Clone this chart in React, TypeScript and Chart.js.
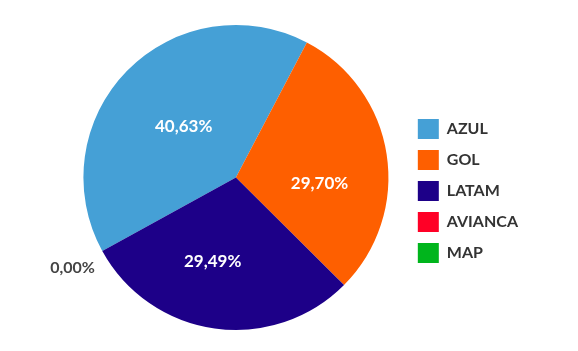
import React, { useEffect, useRef } from "react";
import { Chart, registerables } from "chart.js";

Chart.register(...registerables);

const categories = ["AZUL", "GOL", "LATAM", "AVIANCA", "MAP"];
const shares = [40.63, 29.7, 29.49, 0, 0];
const colors = ["#45a0d6", "#fe5f00", "#1d0088", "#ff0026", "#00b51c"];

// label placement tweaks (style only): angular nudge in degrees, radius fraction
const labelNudgeDeg = [0, 13, 7.5, 0, 0];
const labelRadiusFrac = [0.48, 0.55, 0.57, 0, 0];

const FONT = "Lato, 'Open Sans', sans-serif";

const fmt = (v: number) => v.toFixed(2).replace(".", ",") + "%";

const sliceLabels = {
  id: "sliceLabels",
  afterDatasetsDraw(chart: any) {
    const meta = chart.getDatasetMeta(0);
    const ctx = chart.ctx;
    ctx.save();
    ctx.textAlign = "center";
    ctx.textBaseline = "middle";
    let zeroDrawn = false;
    meta.data.forEach((arc: any, i: number) => {
      const p = arc.getProps(["x", "y", "startAngle", "endAngle", "outerRadius"], true);
      const v = shares[i];
      const mid = (p.startAngle + p.endAngle) / 2 + (labelNudgeDeg[i] * Math.PI) / 180;
      if (v > 0) {
        const r = p.outerRadius * labelRadiusFrac[i];
        ctx.fillStyle = "#ffffff";
        ctx.font = `bold 17px ${FONT}`;
        ctx.fillText(fmt(v), p.x + Math.cos(mid) * r, p.y + Math.sin(mid) * r);
      } else {
        if (zeroDrawn) return;
        zeroDrawn = true;
        const r = p.outerRadius + 34;
        ctx.fillStyle = "#444444";
        ctx.font = `bold 16px ${FONT}`;
        ctx.fillText(fmt(v), p.x + Math.cos(mid) * r, p.y + Math.sin(mid) * r);
      }
    });
    ctx.restore();
  },
};

export default function App() {
  const ref = useRef<HTMLCanvasElement | null>(null);
  useEffect(() => {
    if (!ref.current) return;
    const chart = new Chart(ref.current, {
      type: "pie",
      data: {
        labels: categories,
        datasets: [
          {
            data: shares,
            backgroundColor: colors,
            borderWidth: 0,
          },
        ],
      },
      options: {
        animation: false,
        responsive: true,
        maintainAspectRatio: false,
        rotation: -118.8,
        layout: { padding: { top: 17, bottom: 13, left: 57, right: 42 } },
        plugins: {
          tooltip: { enabled: false },
          legend: {
            position: "right",
            title: { display: true, text: " ", font: { size: 1 }, padding: { top: 13, bottom: 13 } },
            labels: {
              boxWidth: 21,
              boxHeight: 20,
              padding: 11,
              color: "#333333",
              font: { family: FONT, size: 16, weight: "bold" },
            },
          },
        },
      },
      plugins: [sliceLabels],
    });
    return () => chart.destroy();
  }, []);
  return (
    <div style={{ position: "relative", width: 562, height: 335 }}>
      <canvas ref={ref} />
    </div>
  );
}
